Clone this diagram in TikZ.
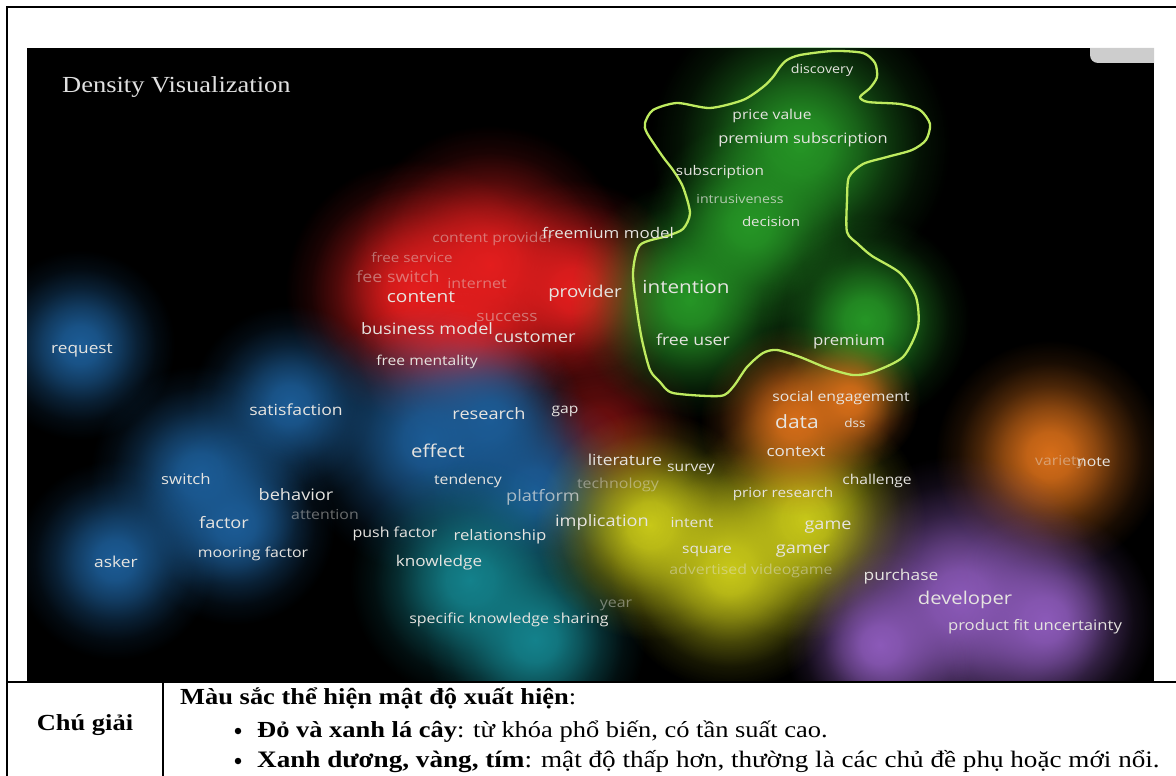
\documentclass[tikz,border=0pt]{standalone}
\usepackage{fontspec}
\setmainfont{Liberation Serif}
\newfontfamily\kwfont[FakeStretch=1.15]{Open Sans}
\newfontfamily\legendfont[FakeStretch=1.15]{Liberation Serif}
\usetikzlibrary{fadings}

\definecolor{kwtext}{RGB}{230,228,224}
\definecolor{hullline}{RGB}{190,235,95}
\definecolor{dRed}{RGB}{228,30,30}
\definecolor{dGreen}{RGB}{38,150,38}
\definecolor{dBlue}{RGB}{28,92,150}
\definecolor{dTeal}{RGB}{20,130,140}
\definecolor{dYellow}{RGB}{200,200,25}
\definecolor{dOrange}{RGB}{215,110,25}
\definecolor{dPurple}{RGB}{140,90,185}
\definecolor{uibar}{RGB}{205,205,205}

\pgfdeclareradialshading{glowshade}{\pgfpointorigin}{%
  color(0bp)=(white); color(5bp)=(black!10); color(10bp)=(black!35);
  color(15bp)=(black!65); color(20bp)=(black!88); color(25bp)=(black);
  color(50bp)=(black)}
\pgfdeclarefading{glow}{\pgfuseshading{glowshade}}

\begin{document}
\begin{tikzpicture}[x=1pt, y=-1pt,
  kw/.style={font=\kwfont\fontsize{#1}{#1}\selectfont, text=kwtext, inner sep=0pt},
  dim/.style={text opacity=0.45},
  blob/.style={fill=#1, path fading=glow},
  frame/.style={line width=2.4pt},
  legend/.style={font=\legendfont\fontsize{23}{23}\selectfont, inner sep=0pt},
  bullet/.style={circle, fill=black, inner sep=0pt, minimum size=6.5pt}
]
\useasboundingbox (0,0) rectangle (1176,776);

% density map
\fill[black] (27,48) rectangle (1154,681);
\begin{scope}
\clip (27,48) rectangle (1154,681);
% red cluster
\foreach \x/\y/\r in {415/290/130, 490/265/140, 575/290/110, 460/345/105}
  \fill[blob=dRed] (\x,\y) circle (\r);
\fill[blob=dRed, opacity=.5] (600,430) circle (100);
% green cluster
\foreach \x/\y/\r in {690/300/120, 800/145/150, 750/225/105, 865/320/105}
  \fill[blob=dGreen] (\x,\y) circle (\r);
% blue cluster
\foreach \x/\y/\r in {80/345/95, 290/405/100, 200/475/110, 235/525/100, 115/560/100,
                      430/440/135, 490/420/95, 535/490/105}
  \fill[blob=dBlue] (\x,\y) circle (\r);
% teal
\foreach \x/\y/\r in {470/580/120, 535/640/110}
  \fill[blob=dTeal] (\x,\y) circle (\r);
% yellow
\foreach \x/\y/\r in {650/525/115, 805/520/120, 730/570/120}
  \fill[blob=dYellow] (\x,\y) circle (\r);
% orange
\foreach \x/\y/\r in {795/420/95, 850/400/70, 1050/455/115}
  \fill[blob=dOrange] (\x,\y) circle (\r);
% purple
\foreach \x/\y/\r in {960/600/145, 1045/620/110, 880/645/95}
  \fill[blob=dPurple] (\x,\y) circle (\r);
\end{scope}

% window corner
\fill[uibar] (1154,48) -- (1090,48) [rounded corners=8pt] -- (1090,63) [sharp corners] -- (1154,63) -- cycle;

\node[legend, text=white!88!black, anchor=west] (title) at (62,87) {Density Visualization};

% hand drawn outline
\draw[hullline, line width=2.3pt, line join=round] plot[smooth cycle, tension=0.45] coordinates {
  (787,60) (800,55) (833,51) (863,53) (875,63) (877,77) (870,88) (860,97)
  (868,102) (900,104) (920,110) (930,124) (926,140) (912,150) (887,157)
  (863,164) (849,177) (847,200) (847,232) (858,244) (872,256) (900,273)
  (916,297) (918,327) (903,357) (873,372) (853,375) (827,368) (800,357)
  (777,350) (763,353) (747,367) (733,387) (720,396) (673,393) (660,382)
  (650,370) (642,340) (637,310) (633,273) (640,245) (667,236) (683,229)
  (690,213) (683,187) (673,170) (663,157) (647,133) (645,123) (653,110)
  (677,103) (710,108) (743,100) (763,87) (773,77) (780,67)};

% keywords
\node[kw=12.4] (discovery) at (822,70) {discovery};
\node[kw=13.6] (pricevalue) at (772,116) {price value};
\node[kw=14.3] (premsub) at (803,140) {premium subscription};
\node[kw=13.3] (subscription) at (720,172) {subscription};
\node[kw=12.3, text opacity=.75] (intrusive) at (740,199) {intrusiveness};
\node[kw=13.1] (decision) at (771,222) {decision};
\node[kw=14.7] (freemium) at (608,233) {freemium model};
\node[kw=13.6, dim] (contprov) at (493,239) {content provider};
\node[kw=13.2, dim] (freeserv) at (412,258) {free service};
\node[kw=15.5, dim] (feeswitch) at (398,277) {fee switch};
\node[kw=13.9, dim] (internet) at (477,283) {internet};
\node[kw=16.6] (content) at (421,297) {content};
\node[kw=16.3] (provider) at (585,293) {provider};
\node[kw=18] (intention) at (686,287) {intention};
\node[kw=15, dim] (success) at (507,317) {success};
\node[kw=15.7] (busmodel) at (427,329) {business model};
\node[kw=16] (customer) at (535,337) {customer};
\node[kw=13.6] (freement) at (427,362) {free mentality};
\node[kw=15.4] (freeuser) at (693,340) {free user};
\node[kw=14.6] (premium) at (849,342) {premium};
\node[kw=15] (request) at (82,350) {request};
\node[kw=15.3] (satisf) at (296,410) {satisfaction};
\node[kw=14.6] (switch) at (186,479) {switch};
\node[kw=15.8] (behavior) at (296,495) {behavior};
\node[kw=13.8, dim] (attention) at (325,514) {attention};
\node[kw=15.8] (factor) at (224,523) {factor};
\node[kw=13.9] (pushfactor) at (395,534) {push factor};
\node[kw=13.8] (mooring) at (253,554) {mooring factor};
\node[kw=15.1] (asker) at (116,562) {asker};
\node[kw=15.8] (research) at (489,414) {research};
\node[kw=13.6] (gap) at (565,411) {gap};
\node[kw=17.7] (effect) at (438,451) {effect};
\node[kw=15.1] (literature) at (625,460) {literature};
\node[kw=13.6] (survey) at (691,469) {survey};
\node[kw=13.7] (tendency) at (468,481) {tendency};
\node[kw=13.9, dim] (technology) at (618,485) {technology};
\node[kw=15.8, text opacity=.7] (platform) at (543,497) {platform};
\node[kw=15.8] (implication) at (602,522) {implication};
\node[kw=13.6] (intent) at (692,523) {intent};
\node[kw=14.6] (relation) at (500,537) {relationship};
\node[kw=14.9] (knowledge) at (439,563) {knowledge};
\node[kw=13.5] (square) at (707,551) {square};
\node[kw=13.8, dim] (advgame) at (751,571) {advertised videogame};
\node[kw=13.9, dim] (year) at (616,605) {year};
\node[kw=13.9] (specific) at (509,620) {specific knowledge sharing};
\node[kw=13.7] (socialeng) at (841,398) {social engagement};
\node[kw=18.3] (data) at (797,422) {data};
\node[kw=11.8] (dss) at (855,423) {dss};
\node[kw=14.8] (context) at (796,452) {context};
\node[kw=13.6] (challenge) at (877,481) {challenge};
\node[kw=13.3] (priorres) at (783,494) {prior research};
\node[kw=15.7] (game) at (828,527) {game};
\node[kw=15.7] (gamer) at (803,551) {gamer};
\node[kw=15.1] (purchase) at (901,577) {purchase};
\node[kw=17.6] (developer) at (965,600) {developer};
\node[kw=14.5] (prodfit) at (1035,627) {product fit uncertainty};
\node[kw=13.7, dim, anchor=west] (variety) at (1035,462) {variety};
\node[kw=13.7, anchor=west] (note) at (1077,462) {note};

% legend table
\draw[frame] (7,776) -- (7,7) -- (1176,7);
\draw[frame] (7,682) -- (1176,682);
\draw[frame] (163,682) -- (163,776);
\node[legend, anchor=base] (chugiai) at (85,730) {\textbf{Chú giải}};
\node[legend, anchor=base west] (heading) at (180,704) {\textbf{Màu sắc thể hiện mật độ xuất hiện}:};
\node[bullet] (bul1) at (238,731) {};
\node[legend, anchor=base west] (item1) at (257,737) {\textbf{Đỏ và xanh lá cây}: từ khóa phổ biến, có tần suất cao.};
\node[bullet] (bul2) at (238,761) {};
\node[legend, anchor=base west, font=\legendfont\fontsize{23.6}{23.6}\selectfont] (item2) at (257,767) {\textbf{Xanh dương, vàng, tím}: mật độ thấp hơn, thường là các chủ đề phụ hoặc mới nổi.};
\end{tikzpicture}
\end{document}
